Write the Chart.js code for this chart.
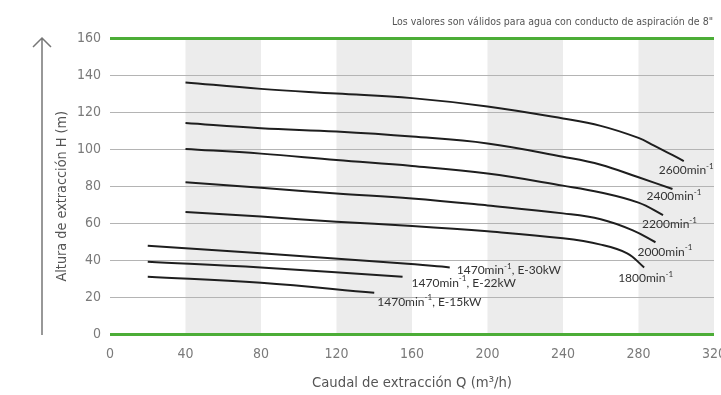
<!DOCTYPE html>
<html>
<head>
<meta charset="utf-8">
<script src="https://cdn.jsdelivr.net/npm/chart.js@4.4.1/dist/chart.umd.min.js"></script>
<style>
  html, body { margin: 0; padding: 0; overflow: hidden; background: #fff; }
  #wrap { width: 730px; height: 395px; }
</style>
</head>
<body>
<div id="wrap"><canvas id="pump-chart" width="730" height="395"></canvas></div>
<script>
// curve names (rpm) and motor power for the 1470 curves
var speeds = ['2600', '2400', '2200', '2000', '1800', '1470', '1470', '1470'];
var powers = ['', '', '', '', '', 'E-30kW', 'E-22kW', 'E-15kW'];

// flow Q (m3/h) and head H (m)
var q2600 = [40, 80, 120, 160, 200, 240, 260, 280, 288, 304];
var h2600 = [136, 132.5, 130, 127.5, 123, 116.5, 112.5, 106, 102, 93.5];
var q2400 = [40, 80, 120, 160, 200, 240, 260, 280, 298];
var h2400 = [114, 111.2, 109.4, 106.7, 103, 95.8, 91.5, 84.7, 78.4];
var q2200 = [40, 80, 120, 160, 200, 240, 260, 280, 293];
var h2200 = [100, 97.5, 94, 90.8, 86.7, 80.2, 76.5, 71, 64.3];
var q2000 = [40, 80, 120, 160, 200, 240, 260, 277, 289];
var h2000 = [82, 79, 76, 73.3, 69.5, 65.2, 62, 56, 49.6];
var q1800 = [40, 80, 120, 160, 200, 240, 260, 274, 283];
var h1800 = [66, 63.5, 60.7, 58.4, 55.5, 51.7, 48.3, 43.6, 36];
var q30kw = [20, 80, 154, 180];
var h30kw = [47.7, 43.6, 38.2, 36];
var q22kw = [20, 80, 155];
var h22kw = [39.1, 36, 31];
var q15kw = [20, 80, 140];
var h15kw = [31, 27.7, 22.3];

var xTicks = [0, 40, 80, 120, 160, 200, 240, 280, 320];
var yTicks = [0, 20, 40, 60, 80, 100, 120, 140, 160];
var bands = [[40, 80], [120, 160], [200, 240], [280, 320]];

var note = 'Los valores son válidos para agua con conducto de aspiración de 8"';

// label offsets in px from each curve's last point
var labelOffsets = [[-25, 9], [-26, 7], [-21, 9], [-18, 9.5], [-26, 11], [7, 3], [9, 6], [3, 9]];

var allQ = [q2600, q2400, q2200, q2000, q1800, q30kw, q22kw, q15kw];
var allH = [h2600, h2400, h2200, h2000, h1800, h30kw, h22kw, h15kw];

var GREEN = '#4cad37';
var narrow = '"DejaVu Sans Condensed", "Liberation Sans Narrow", sans-serif';

function toPoints(qs, hs) {
  var pts = [];
  for (var i = 0; i < qs.length; i++) {
    pts.push({ x: qs[i], y: hs[i] });
  }
  return pts;
}

var datasets = [];
for (var i = 0; i < speeds.length; i++) {
  datasets.push({
    label: speeds[i] + ' ' + powers[i],
    data: toPoints(allQ[i], allH[i]),
    borderColor: '#1e1e1e',
    borderWidth: 2,
    pointRadius: 0,
    fill: false,
    tension: 0.4
  });
}

var bandsPlugin = {
  id: 'bands',
  beforeDraw: function (chart) {
    var ctx = chart.ctx, a = chart.chartArea, x = chart.scales.x;
    ctx.save();
    ctx.fillStyle = '#ececec';
    bands.forEach(function (b) {
      var x0 = x.getPixelForValue(b[0]);
      var x1 = x.getPixelForValue(b[1]);
      ctx.fillRect(x0, a.top, x1 - x0, a.bottom - a.top);
    });
    ctx.restore();
  }
};

var labelsPlugin = {
  id: 'curveLabels',
  afterDatasetsDraw: function (chart) {
    var ctx = chart.ctx;
    ctx.save();
    ctx.fillStyle = '#333';
    ctx.textBaseline = 'middle';
    ctx.textAlign = 'left';
    chart.data.datasets.forEach(function (ds, i) {
      var meta = chart.getDatasetMeta(i);
      var last = meta.data[meta.data.length - 1];
      var x = last.x + labelOffsets[i][0];
      var y = last.y + labelOffsets[i][1];
      ctx.font = '12px Lato, sans-serif';
      var main = speeds[i] + 'min';
      ctx.fillText(main, x, y);
      x += ctx.measureText(main).width;
      ctx.font = '8px Lato, sans-serif';
      ctx.fillText('-1', x, y - 4);
      x += ctx.measureText('-1').width;
      if (powers[i]) {
        ctx.font = '12px Lato, sans-serif';
        ctx.fillText(', ' + powers[i], x, y);
      }
    });
    ctx.restore();
  },
  afterDraw: function (chart) {
    var ctx = chart.ctx, a = chart.chartArea;
    ctx.save();
    // note top right
    ctx.font = '10.5px ' + narrow;
    ctx.fillStyle = '#555';
    ctx.textAlign = 'right';
    ctx.textBaseline = 'middle';
    ctx.fillText(note, 713, 22);
    // arrow next to y title
    ctx.strokeStyle = '#777';
    ctx.lineWidth = 1.5;
    ctx.beginPath();
    ctx.moveTo(42, a.bottom + 1);
    ctx.lineTo(42, a.top);
    ctx.moveTo(33, a.top + 9);
    ctx.lineTo(42, a.top);
    ctx.lineTo(51, a.top + 9);
    ctx.stroke();
    ctx.restore();
  }
};

var chartEl = document.getElementById('pump-chart');
var pumpChart = new Chart(chartEl, {
  type: 'line',
  data: { datasets: datasets },
  options: {
    responsive: false,
    animation: false,
    layout: { padding: { top: 38, left: 0, right: 0, bottom: 0 } },
    plugins: {
      legend: { display: false },
      tooltip: { enabled: false }
    },
    scales: {
      x: {
        type: 'linear',
        min: 0,
        max: 320,
        afterBuildTicks: function (s) { s.ticks = xTicks.map(function (v) { return { value: v }; }); },
        afterFit: function (s) { s.height = 61; s.paddingLeft = 0; s.paddingRight = 16; },
        grid: { display: false },
        border: { display: false },
        ticks: { color: '#7a7a7a', font: { family: narrow, size: 14 }, padding: 4, maxRotation: 0 },
        title: {
          display: true,
          text: 'Caudal de extracción Q (m³/h)',
          color: '#555',
          font: { family: narrow, size: 14.7 },
          padding: { top: 0, bottom: 3 }
        }
      },
      y: {
        min: 0,
        max: 160,
        afterBuildTicks: function (s) { s.ticks = yTicks.map(function (v) { return { value: v }; }); },
        afterFit: function (s) { s.width = 110; },
        grid: {
          drawTicks: false,
          color: function (c) { return (c.tick.value === 0 || c.tick.value === 160) ? GREEN : '#b4b4b4'; },
          lineWidth: function (c) { return (c.tick.value === 0 || c.tick.value === 160) ? 3 : 1; }
        },
        border: { display: false },
        ticks: { color: '#7a7a7a', font: { family: narrow, size: 14 }, padding: 9 },
        title: {
          display: true,
          // trailing spaces push the centred text down a little, as in the original
          text: 'Altura de extracción H (m)     ',
          color: '#555',
          font: { family: narrow, size: 14.3 },
          padding: { top: 54, bottom: 0 }
        }
      }
    }
  },
  plugins: [bandsPlugin, labelsPlugin]
});
</script>
</body>
</html>
